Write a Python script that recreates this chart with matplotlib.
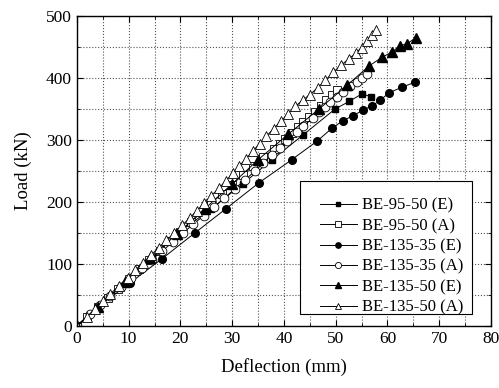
import numpy as np
import matplotlib.pyplot as plt
from matplotlib.ticker import MultipleLocator
from matplotlib.patches import Rectangle

plt.rcParams['font.family'] = ['Liberation Serif', 'DejaVu Serif']

# BE-95-50
d_95_50_e = [0, 4, 10, 14.5, 19.5, 26, 32, 37.7, 43.7, 49.9, 52.6, 55, 56.8]
l_95_50_e = [0, 30, 70, 110, 150, 189, 229, 268, 308, 350, 362, 374, 370]
d_95_50_a = [0, 2, 4, 6, 8, 10, 12, 14, 16, 18, 20, 22, 24, 26, 28, 30, 32, 34,
             36, 38, 39.2, 40.2, 41.5, 42.7, 43.7, 44.8, 46, 47.1, 48.2, 49.2, 50.2]
l_95_50_a = [0, 15, 30, 45, 60, 76, 91, 106, 121, 137, 152, 167, 183, 198, 213, 228, 243, 258,
             272, 285, 294, 302, 311, 321, 329, 337, 345, 355, 365, 373, 381]

# BE-135-35
d_135_35_e = [0, 4, 10.2, 16.4, 22.8, 28.8, 35.2, 41.5, 46.4, 49.3, 51.4, 53.3, 55.3,
              57, 58.6, 60.3, 62.8, 65.3]
l_135_35_e = [0, 30, 69, 108, 150, 189, 231, 268, 298, 319, 331, 339, 348,
              355, 364, 376, 385, 393]
d_135_35_a = [0, 2.5, 4.5, 6.5, 8.5, 10.5, 12.5, 14.5, 16.5, 18.5, 20.5, 22.5, 24.5, 26.5,
              28.5, 30.5, 32.5, 34.5, 36, 37.7, 39.2, 40.6, 42.5, 43.7, 45.6, 46.8, 47.9,
              48.9, 50.2, 51.4, 52.8, 54.1, 55.1, 56]
l_135_35_a = [0, 19, 34, 48, 63, 78, 93, 107, 121, 135, 150, 164, 178, 192,
              206, 221, 236, 250, 263, 276, 287, 298, 313, 322, 335, 345, 353,
              361, 369, 377, 387, 394, 400, 406]

# BE-135-50
d_135_50_e = [0, 4, 9.3, 14.1, 19.3, 24.7, 30, 35, 40.8, 46.8, 52.2, 56.4, 58.9,
              60.9, 62.4, 63.8, 65.5]
l_135_50_e = [0, 30, 71, 110, 148, 189, 229, 268, 309, 350, 388, 419, 433,
              442, 452, 455, 465]
d_135_50_a = [0, 1.9, 3.5, 5, 6.5, 8.2, 9.8, 11.3, 12.8, 14.3, 15.8, 17.3, 18.8, 20.3,
              21.8, 23.2, 24.6, 26, 27.4, 28.8, 30.1, 31.4, 32.7, 34, 35.3, 36.6, 38,
              39.4, 40.8, 42.2, 43.6, 45, 46.5, 48, 49.5, 51.1, 52.6, 53.9, 55, 56, 57, 57.8]
l_135_50_a = [0, 14, 28, 40, 52, 65, 78, 90, 102, 114, 126, 138, 150, 162,
              174, 186, 198, 210, 222, 234, 246, 258, 270, 282, 294, 306, 318,
              330, 342, 354, 364, 373, 384, 396, 409, 421, 431, 440, 449, 460, 469, 477]

fig = plt.figure(figsize=(4.99, 3.88), dpi=100)
ax = fig.add_axes([0.154, 0.160, 0.830, 0.799])

kw = dict(color='black', linewidth=0.7)
ax.plot(d_95_50_e, l_95_50_e, marker='s', markersize=5, mfc='black', label='BE-95-50 (E)', **kw)
ax.plot(d_95_50_a, l_95_50_a, marker='s', markersize=6.3, mfc='white', mew=0.6, label='BE-95-50 (A)', **kw)
ax.plot(d_135_35_e, l_135_35_e, marker='o', markersize=5.5, mfc='black', label='BE-135-35 (E)', **kw)
ax.plot(d_135_35_a, l_135_35_a, marker='o', markersize=6.3, mfc='white', mew=0.6, label='BE-135-35 (A)', **kw)
ax.plot(d_135_50_e, l_135_50_e, marker='^', markersize=6.5, mfc='black', label='BE-135-50 (E)', **kw)
ax.plot(d_135_50_a, l_135_50_a, marker='^', markersize=7, mfc='white', mew=0.6, label='BE-135-50 (A)', **kw)

ax.set_xlim(0, 80)
ax.set_ylim(0, 500)
ax.xaxis.set_major_locator(MultipleLocator(10))
ax.xaxis.set_minor_locator(MultipleLocator(5))
ax.yaxis.set_major_locator(MultipleLocator(100))
ax.yaxis.set_minor_locator(MultipleLocator(50))
ax.tick_params(which='both', direction='in', top=True, right=True, labelsize=12.5)
ax.tick_params(which='major', length=4)
ax.tick_params(which='minor', length=2)
ax.grid(which='both', linestyle=':', color='#555555', linewidth=0.8)
ax.set_axisbelow(True)
for s in ax.spines.values():
    s.set_linewidth(1.0)

ax.set_xlabel('Deflection (mm)', fontsize=13.5, labelpad=8)
ax.set_ylabel('Load (kN)', fontsize=13.5, labelpad=10)

# legend frame drawn separately (uneven padding in the original)
ax.add_patch(Rectangle((0.539, 0.039), 0.415, 0.429, transform=ax.transAxes,
                       facecolor='white', edgecolor='black', linewidth=0.8, zorder=4))
leg = ax.legend(loc='upper left', bbox_to_anchor=(0.587, 0.413), fontsize=12,
                frameon=False, markerscale=0.7, borderpad=0, borderaxespad=0,
                handlelength=2.2, handletextpad=0.3, labelspacing=0.26)
leg.set_zorder(5)

fig.savefig('out.png', dpi=100)
